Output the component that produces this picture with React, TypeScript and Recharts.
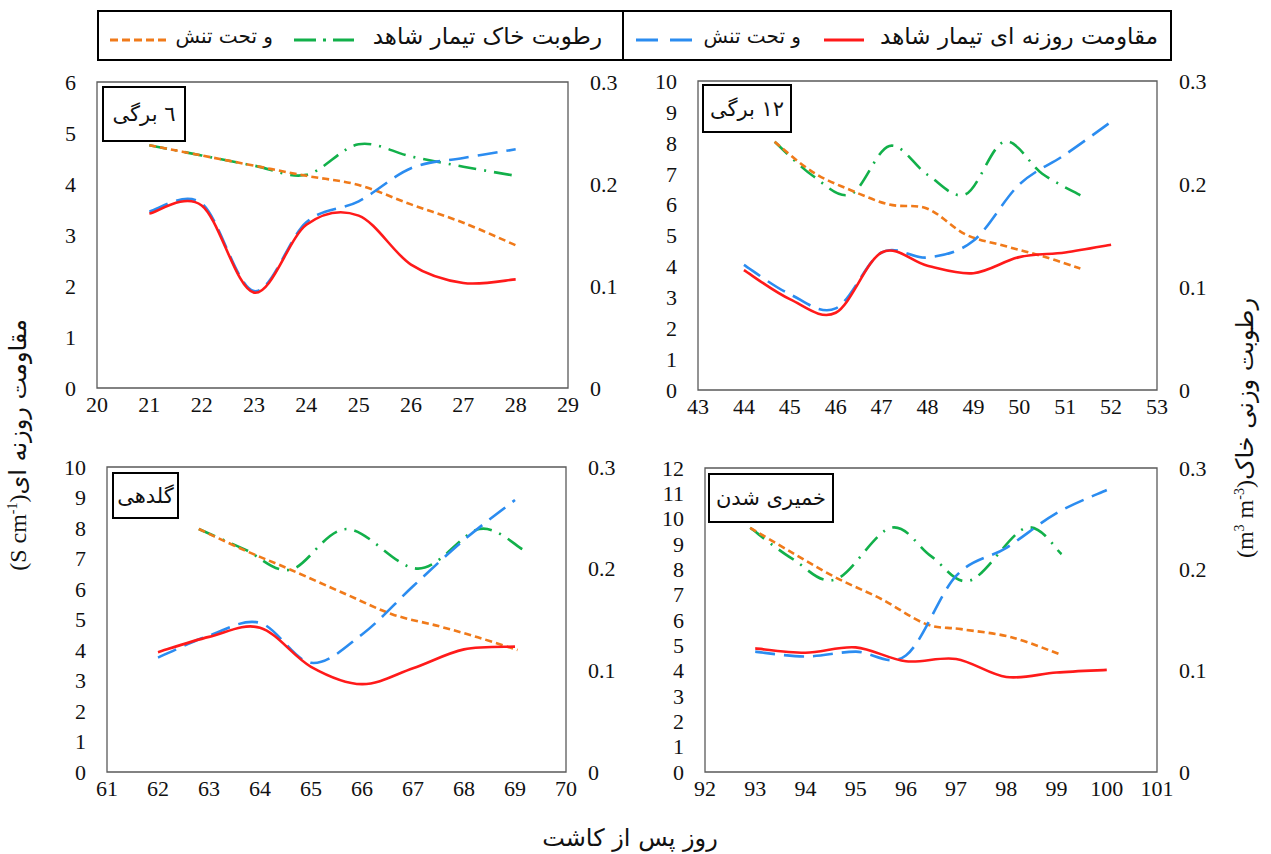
import React from "react";
import { LineChart, Line, XAxis, YAxis, ReferenceArea } from "recharts";

// ---- data ----
// panel 1: ٦ برگی
const tlDays = [21, 22, 23, 24, 25, 26, 27, 28];
const tlResCtrl = [3.42, 3.58, 1.87, 3.2, 3.38, 2.42, 2.06, 2.13];
const tlResStress = [3.46, 3.62, 1.9, 3.25, 3.66, 4.31, 4.51, 4.68];
const tlMoistDays = [21, 22, 23, 24, 25, 26, 27, 28];
const tlMoistCtrl = [0.238, 0.228, 0.218, 0.209, 0.239, 0.227, 0.217, 0.208];
const tlMoistStress = [0.238, 0.228, 0.218, 0.208, 0.199, 0.18, 0.162, 0.14];

// panel 2: ۱۲ برگی
const trDays = [44, 45, 46, 47, 48, 49, 50, 51, 52];
const trResCtrl = [3.88, 2.94, 2.5, 4.45, 4.02, 3.78, 4.3, 4.45, 4.7];
const trResStress = [4.05, 3.1, 2.64, 4.45, 4.29, 4.83, 6.65, 7.62, 8.68];
const trMoistDays = [44.67, 45.5, 46.33, 47.17, 48, 48.83, 49.67, 50.5, 51.33];
const trMoistCtrl = [0.241, 0.208, 0.19, 0.237, 0.209, 0.19, 0.241, 0.21, 0.189];
const trMoistStress = [0.241, 0.2115, 0.194, 0.18, 0.176, 0.151, 0.14, 0.13, 0.118];

// panel 3: گلدهی
const blDays = [62, 63, 64, 65, 66, 67, 68, 69];
const blResCtrl = [3.93, 4.43, 4.73, 3.45, 2.88, 3.4, 4.02, 4.11];
const blResStress = [3.75, 4.47, 4.89, 3.58, 4.51, 6.09, 7.61, 8.92];
const blMoistCtrlDays = [62.8, 63.7, 64.6, 65.7, 67.1, 68.3, 69.15];
const blMoistCtrl = [0.239, 0.219, 0.199, 0.239, 0.2, 0.239, 0.219];
const blMoistStressDays = [62.8, 63.7, 64.6, 65.7, 66.6, 67.5, 68.3, 69.05];
const blMoistStress = [0.239, 0.218, 0.199, 0.1745, 0.155, 0.1435, 0.132, 0.12];

// panel 4: خمیری شدن
const brDays = [93, 94, 95, 96, 97, 98, 99, 100];
const brResCtrl = [4.88, 4.71, 4.92, 4.37, 4.46, 3.75, 3.93, 4.03];
const brResStress = [4.75, 4.56, 4.75, 4.6, 7.74, 8.85, 10.22, 11.13];
const brMoistCtrlDays = [92.9, 93.75, 94.6, 95.7, 96.5, 97.28, 98.39, 99.1];
const brMoistCtrl = [0.241, 0.21, 0.19, 0.241, 0.213, 0.189, 0.241, 0.215];
const brMoistStressDays = [92.9, 93.75, 94.6, 95.5, 96.4, 97.1, 98.1, 99.1];
const brMoistStress = [0.241, 0.216, 0.192, 0.171, 0.146, 0.141, 0.133, 0.1155];

const moistTicks = [0, 0.1, 0.2, 0.3];

type Pt = { x: number; y: number };
const pts = (xs: number[], ys: number[]): Pt[] => xs.map((x, i) => ({ x, y: ys[i] }));
const range = (a: number, b: number) => Array.from({ length: b - a + 1 }, (_, i) => a + i);

// smoothed line like Excel: bezier with 1/6 neighbour tangents
function excelSmooth(context: any) {
  let p: number[][] = [];
  return {
    areaStart() {},
    areaEnd() {},
    lineStart() {
      p = [];
    },
    point(x: number, y: number) {
      p.push([+x, +y]);
    },
    lineEnd() {
      if (!p.length) return;
      context.moveTo(p[0][0], p[0][1]);
      for (let i = 0; i < p.length - 1; i++) {
        const p0 = p[i - 1] || p[i];
        const p1 = p[i];
        const p2 = p[i + 1];
        const p3 = p[i + 2] || p2;
        context.bezierCurveTo(
          p1[0] + (p2[0] - p0[0]) / 6,
          p1[1] + (p2[1] - p0[1]) / 6,
          p2[0] - (p3[0] - p1[0]) / 6,
          p2[1] - (p3[1] - p1[1]) / 6,
          p2[0],
          p2[1]
        );
      }
    }
  };
}

const RED = "#ff1a1a";
const BLUE = "#2b8cf0";
const GREEN = "#12b04a";
const ORANGE = "#f07a1a";

const SERIF = "'Liberation Serif', 'Times New Roman', 'DejaVu Serif', serif";
const FA = "DejaVu Sans, sans-serif";
const tickStyle = { fill: "#111", fontSize: 22, fontFamily: SERIF, style: { fontFamily: SERIF } };

const AXL = 60;
const AXR = 70;
const MT = 15;
const AXB = 40;

interface PanelProps {
  left: number;
  top: number;
  width: number;
  height: number;
  xMin: number;
  xMax: number;
  yMax: number;
  resCtrl: Pt[];
  resStress: Pt[];
  moistCtrl: Pt[];
  moistStress: Pt[];
  label: string;
  box: { x: number; y: number; w: number; h: number };
}

function Panel(props: PanelProps) {
  const { left, top, width, height, xMin, xMax, yMax, box } = props;
  return (
    <>
      <div style={{ position: "absolute", left: left - AXL, top: top - MT, fontFamily: SERIF }}>
        <LineChart width={width + AXL + AXR} height={height + MT + AXB} margin={{ top: MT, right: 0, bottom: 0, left: 0 }}>
          <XAxis
            type="number"
            dataKey="x"
            domain={[xMin, xMax]}
            ticks={range(xMin, xMax)}
            interval={0}
            allowDataOverflow
            tickLine={false}
            axisLine={false}
            tickSize={0}
            tickMargin={8}
            height={AXB}
            tick={tickStyle}
          />
          <YAxis
            yAxisId="left"
            domain={[0, yMax]}
            ticks={range(0, yMax)}
            interval={0}
            tickLine={false}
            axisLine={false}
            tickSize={0}
            tickMargin={21}
            width={AXL}
            tick={tickStyle}
          />
          <YAxis
            yAxisId="right"
            orientation="right"
            domain={[0, 0.3]}
            ticks={moistTicks}
            interval={0}
            tickLine={false}
            axisLine={false}
            tickSize={0}
            tickMargin={22}
            width={AXR}
            tick={tickStyle}
          />
          <ReferenceArea yAxisId="left" x1={xMin} x2={xMax} y1={0} y2={yMax} fill="none" stroke="#5a5a5a" strokeWidth={1.3} />
          <Line yAxisId="right" data={props.moistCtrl} dataKey="y" type={excelSmooth as any} stroke={GREEN} strokeWidth={2.6} strokeDasharray="18 8 2 8" dot={false} activeDot={false} isAnimationActive={false} />
          <Line yAxisId="right" data={props.moistStress} dataKey="y" type={excelSmooth as any} stroke={ORANGE} strokeWidth={2.6} strokeDasharray="7 4" dot={false} activeDot={false} isAnimationActive={false} />
          <Line yAxisId="left" data={props.resStress} dataKey="y" type={excelSmooth as any} stroke={BLUE} strokeWidth={2.6} strokeDasharray="20 9" dot={false} activeDot={false} isAnimationActive={false} />
          <Line yAxisId="left" data={props.resCtrl} dataKey="y" type={excelSmooth as any} stroke={RED} strokeWidth={2.6} dot={false} activeDot={false} isAnimationActive={false} />
        </LineChart>
      </div>
      <div
        style={{
          position: "absolute",
          left: box.x,
          top: box.y,
          width: box.w,
          height: box.h,
          boxSizing: "border-box",
          border: "2px solid #000",
          background: "#fff",
          display: "flex",
          alignItems: "center",
          justifyContent: "center",
          fontFamily: FA,
          fontSize: 21,
          color: "#111",
          direction: "rtl",
          whiteSpace: "nowrap"
        }}
      >
        {props.label}
      </div>
    </>
  );
}

function Sample({ x1, x2, y, color, dash }: { x1: number; x2: number; y: number; color: string; dash?: string }) {
  return (
    <svg style={{ position: "absolute", left: x1, top: y - 3 }} width={x2 - x1} height={6}>
      <line x1={0} y1={3} x2={x2 - x1} y2={3} stroke={color} strokeWidth={3} strokeDasharray={dash} />
    </svg>
  );
}

function RtlText({ right, y, text, size = 23 }: { right: number; y: number; text: string; size?: number }) {
  return (
    <div
      style={{
        position: "absolute",
        right: 1271 - right,
        top: y,
        transform: "translateY(-50%)",
        fontFamily: FA,
        fontSize: size,
        color: "#111",
        direction: "rtl",
        whiteSpace: "nowrap"
      }}
    >
      {text}
    </div>
  );
}

export default function App() {
  return (
    <div style={{ position: "absolute", left: 0, top: 0, width: 1271, height: 854, background: "#fff", overflow: "hidden" }}>
      {/* legend */}
      <div style={{ position: "absolute", left: 97, top: 10, width: 1075, height: 51, boxSizing: "border-box", border: "2px solid #000" }} />
      <div style={{ position: "absolute", left: 622, top: 10, width: 2, height: 51, background: "#000" }} />
      <RtlText right={1158} y={36} text="مقاومت روزنه ای تیمار شاهد" />
      <Sample x1={824} x2={864} y={40} color={RED} />
      <RtlText right={801} y={36} text="و تحت تنش" size={20} />
      <Sample x1={636} x2={692} y={40} color={BLUE} dash="22 12" />
      <RtlText right={602} y={36} text="رطوبت خاک تیمار شاهد" />
      <Sample x1={294} x2={354} y={40} color={GREEN} dash="22 7 3 7" />
      <RtlText right={273} y={36} text="و تحت تنش" size={20} />
      <Sample x1={110} x2={168} y={40} color={ORANGE} dash="8 4" />

      <Panel
        left={97} top={82} width={471} height={306}
        xMin={20} xMax={29} yMax={6}
        resCtrl={pts(tlDays, tlResCtrl)} resStress={pts(tlDays, tlResStress)}
        moistCtrl={pts(tlMoistDays, tlMoistCtrl)} moistStress={pts(tlMoistDays, tlMoistStress)}
        label="٦ برگی" box={{ x: 102, y: 86, w: 84, h: 56 }}
      />
      <Panel
        left={698} top={81} width={459} height={309}
        xMin={43} xMax={53} yMax={10}
        resCtrl={pts(trDays, trResCtrl)} resStress={pts(trDays, trResStress)}
        moistCtrl={pts(trMoistDays, trMoistCtrl)} moistStress={pts(trMoistDays, trMoistStress)}
        label="۱۲ برگی" box={{ x: 702, y: 84, w: 90, h: 49 }}
      />
      <Panel
        left={107} top={467} width={459} height={305}
        xMin={61} xMax={70} yMax={10}
        resCtrl={pts(blDays, blResCtrl)} resStress={pts(blDays, blResStress)}
        moistCtrl={pts(blMoistCtrlDays, blMoistCtrl)} moistStress={pts(blMoistStressDays, blMoistStress)}
        label="گلدهی" box={{ x: 112, y: 472, w: 67, h: 47 }}
      />
      <Panel
        left={705} top={468} width={452} height={304}
        xMin={92} xMax={101} yMax={12}
        resCtrl={pts(brDays, brResCtrl)} resStress={pts(brDays, brResStress)}
        moistCtrl={pts(brMoistCtrlDays, brMoistCtrl)} moistStress={pts(brMoistStressDays, brMoistStress)}
        label="خمیری شدن" box={{ x: 708, y: 473, w: 126, h: 50 }}
      />

      {/* axis titles */}
      <div
        style={{
          position: "absolute",
          left: 18,
          top: 445,
          transform: "translate(-50%, -50%) rotate(-90deg)",
          display: "flex",
          alignItems: "baseline",
          whiteSpace: "nowrap",
          color: "#111",
          fontSize: 24
        }}
      >
        <span style={{ fontFamily: SERIF, fontSize: 24 }}>
          (S cm<sup style={{ fontSize: 14 }}>-1</sup>)
        </span>
        <span style={{ fontFamily: FA, direction: "rtl" }}>مقاومت روزنه ای</span>
      </div>
      <div
        style={{
          position: "absolute",
          left: 1245,
          top: 428,
          transform: "translate(-50%, -50%) rotate(-90deg)",
          display: "flex",
          alignItems: "baseline",
          whiteSpace: "nowrap",
          color: "#111",
          fontSize: 24
        }}
      >
        <span style={{ fontFamily: SERIF, fontSize: 24 }}>
          (m<sup style={{ fontSize: 14 }}>3</sup> m<sup style={{ fontSize: 14 }}>-3</sup>)
        </span>
        <span style={{ fontFamily: FA, direction: "rtl" }}>رطوبت وزنی خاک</span>
      </div>
      <div
        style={{
          position: "absolute",
          left: 630,
          top: 838,
          transform: "translate(-50%, -50%)",
          fontFamily: FA,
          fontSize: 24,
          color: "#111",
          direction: "rtl",
          whiteSpace: "nowrap"
        }}
      >
        روز پس از کاشت
      </div>
    </div>
  );
}
